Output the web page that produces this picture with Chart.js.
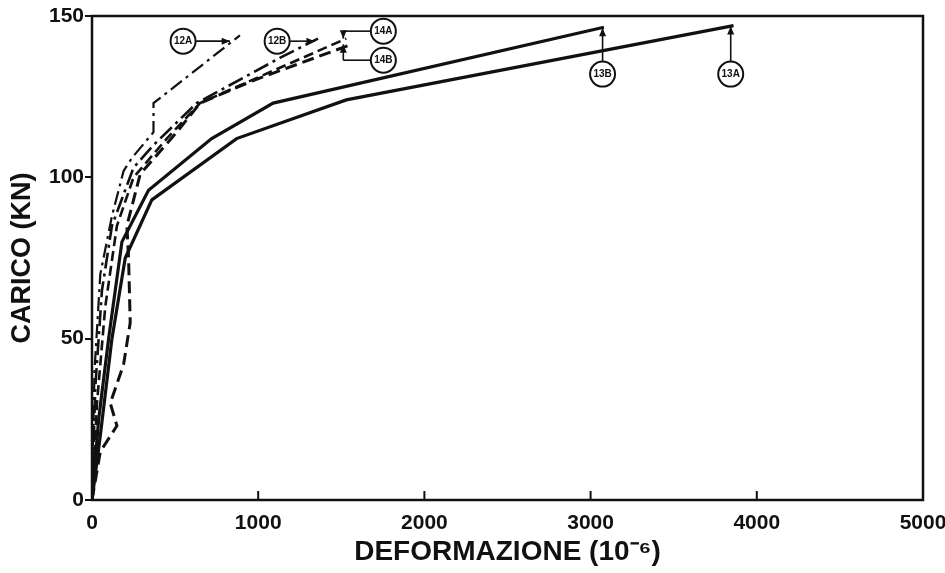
<!DOCTYPE html>
<html>
<head>
<meta charset="utf-8">
<script src="https://cdn.jsdelivr.net/npm/chart.js@4.4.1/dist/chart.umd.min.js"></script>
<style>
html,body{margin:0;padding:0;background:#fff;}
#wrap{width:945px;height:573px;}
</style>
</head>
<body>
<div id="wrap"><canvas id="grafico"></canvas></div>
<script>
// deformazione (10^-6) e carico (kN)
const def12A = [0, 15, 50, 120, 190, 240, 370, 370, 420, 890];
const car12A = [0, 40, 70, 88, 102, 106, 114, 123, 125, 144];

const def12B = [0, 20, 60, 120, 250, 370, 630, 1130, 1360];
const car12B = [0, 35, 65, 85, 103, 110, 123, 137, 143];

const def14A = [0, 30, 80, 150, 250, 450, 650, 1000, 1530];
const car14A = [0, 30, 60, 85, 100, 112, 123, 131, 143];

const def14B = [0, 50, 150, 110, 190, 230, 220, 210, 290, 510, 650, 970, 1550];
const car14B = [0, 15, 23, 30, 42, 55, 75, 85, 101, 114, 123, 130, 141];

const def13A = [0, 50, 120, 200, 360, 870, 1530, 3860];
const car13A = [0, 20, 50, 75, 93, 112, 124, 147];

const def13B = [0, 40, 100, 180, 340, 720, 1090, 3080];
const car13B = [0, 25, 50, 80, 96, 112, 123, 146.5];

const tickX = [0, 1000, 2000, 3000, 4000, 5000];
const tickY = [0, 50, 100, 150];

// etichette cerchiate: [testo, x cerchio, y cerchio]
const etichette = [
["12A", 548, 142.2],
["12B", 1114, 142.2],
["14A", 1753, 145.3],
["14B", 1753, 136.3],
["13B", 3072, 132],
["13A", 3843, 132]
];

function punti(xs, ys){
return xs.map((x,i)=>({x:x, y:ys[i]}));
}

function serie(label, xs, ys, dash, w){
return {
label:label,
data:punti(xs, ys),
showLine:true,
borderColor:"#111",
borderWidth:w,
borderDash:dash,
pointRadius:0,
tension:0,
fill:false
};
}

const fonte = "'Liberation Sans', Arial, sans-serif";

function freccia(c, x1, y1, x2, y2){
c.beginPath();
c.moveTo(x1,y1);
c.lineTo(x2,y2);
c.stroke();
const a = Math.atan2(y2-y1, x2-x1);
const L = 9;
c.beginPath();
c.moveTo(x2,y2);
c.lineTo(x2-L*Math.cos(a-0.4), y2-L*Math.sin(a-0.4));
c.lineTo(x2-L*Math.cos(a+0.4), y2-L*Math.sin(a+0.4));
c.closePath();
c.fill();
}

const decorazioni = {
id:"decorazioni",
afterDatasetsDraw(chart){
const c = chart.ctx;
const a = chart.chartArea;
const sx = chart.scales.x, sy = chart.scales.y;
const px = v=>sx.getPixelForValue(v);
const py = v=>sy.getPixelForValue(v);
c.save();
c.strokeStyle = "#111";
c.fillStyle = "#111";
// cornice
c.lineWidth = 2.5;
c.strokeRect(a.left, a.top, a.right-a.left, a.bottom-a.top);
// tacche interne asse x
c.lineWidth = 2;
tickX.slice(1,-1).forEach(v=>{
c.beginPath();
c.moveTo(px(v), a.bottom);
c.lineTo(px(v), a.bottom-9);
c.stroke();
});
// frecce
c.lineWidth = 1.6;
freccia(c, px(548)+13, py(142.2), px(830), py(142.2));
freccia(c, px(1114)+13, py(142.2), px(1340), py(142.2));
c.beginPath();
c.moveTo(px(1753)-13, py(145.3));
c.lineTo(px(1512), py(145.3));
c.stroke();
freccia(c, px(1512), py(145.3), px(1512), py(143));
c.beginPath();
c.moveTo(px(1753)-13, py(136.3));
c.lineTo(px(1512), py(136.3));
c.stroke();
freccia(c, px(1512), py(136.3), px(1512), py(141.2));
freccia(c, px(3072), py(132)-13, px(3072), py(146.3));
freccia(c, px(3843), py(132)-13, px(3843), py(146.8));
// cerchi
etichette.forEach(e=>{
const x = px(e[1]), y = py(e[2]);
c.beginPath();
c.arc(x, y, 12.5, 0, Math.PI*2);
c.fillStyle = "#fff";
c.fill();
c.lineWidth = 2;
c.stroke();
c.fillStyle = "#111";
c.font = "bold 10px " + fonte;
c.textAlign = "center";
c.textBaseline = "middle";
c.fillText(e[0], x, y+0.5);
});
c.restore();
}
};

new Chart(document.getElementById("grafico"),{
type:"scatter",
data:{
datasets:[
serie("12A", def12A, car12A, [14,5,3,5], 2.2),
serie("12B", def12B, car12B, [16,5,3,5], 2.6),
serie("14A", def14A, car14A, [10,5], 2.6),
serie("14B", def14B, car14B, [12,6], 3),
serie("13A", def13A, car13A, [], 3.2),
serie("13B", def13B, car13B, [], 3.2)
]
},
options:{
responsive:true,
maintainAspectRatio:false,
animation:false,
layout:{padding:{top:16, right:22, left:0, bottom:0}},
plugins:{
legend:{display:false},
tooltip:{enabled:false}
},
scales:{
x:{
type:"linear",
min:0,
max:5000,
afterBuildTicks(s){ s.ticks = tickX.map(v=>({value:v})); },
afterFit(s){ s.height = 73; s.paddingRight = 0; s.paddingLeft = 0; },
grid:{display:true, drawOnChartArea:false, drawTicks:false},
border:{display:false},
ticks:{
color:"#111",
padding:11,
maxRotation:0,
callback:v=>String(v),
font:{family:fonte, size:21, weight:"bold"}
},
title:{
display:true,
text:"DEFORMAZIONE (10⁻⁶)",
color:"#111",
padding:{top:0},
font:{family:fonte, size:28, weight:"bold"}
}
},
y:{
type:"linear",
min:0,
max:150,
afterBuildTicks(s){ s.ticks = tickY.map(v=>({value:v})); },
afterFit(s){ s.width = 92; },
grid:{display:true, drawOnChartArea:false, drawTicks:true, tickLength:7, color:"#111", lineWidth:2},
border:{display:false},
ticks:{
color:"#111",
padding:1,
callback:v=>String(v),
font:{family:fonte, size:21, weight:"bold"}
},
title:{
display:true,
text:"CARICO (KN)",
color:"#111",
padding:{top:6, bottom:0},
font:{family:fonte, size:27, weight:"bold"}
}
}
}
},
plugins:[decorazioni]
});
</script>
</body>
</html>
